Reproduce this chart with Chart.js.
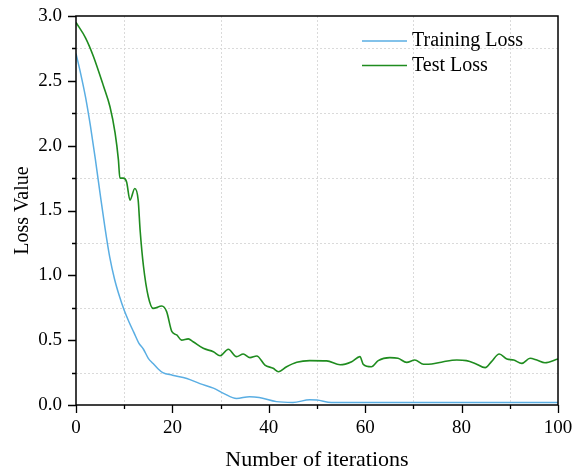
<!DOCTYPE html>
<html>
<head>
<meta charset="utf-8">
<script src="https://cdn.jsdelivr.net/npm/chart.js@4"></script>
<style>
  body { margin: 0; background: #fff; }
  canvas { display: block; }
</style>
</head>
<body>
<canvas id="lossChart" width="573" height="475"></canvas>
<script>
// values
const trainIter = [0, 1, 2, 3, 4, 5, 6, 7, 8, 9, 10, 11, 12, 13, 14, 15, 16, 17, 18, 20, 23, 25.7, 28.5, 30.6, 33.3, 36, 38, 41.6, 45, 48.5, 50, 53, 60, 70, 80, 90, 100];
const trainLoss = [2.71, 2.55, 2.37, 2.15, 1.9, 1.63, 1.37, 1.14, 0.97, 0.84, 0.73, 0.64, 0.56, 0.48, 0.43, 0.36, 0.32, 0.28, 0.25, 0.23, 0.205, 0.165, 0.13, 0.09, 0.05, 0.064, 0.058, 0.026, 0.02, 0.04, 0.038, 0.02, 0.02, 0.02, 0.02, 0.02, 0.02];

const testIter = [0, 2, 3.6, 5.7, 7.05, 8.1, 8.8, 9.1, 9.8, 10.5, 11.2, 12.2, 12.9, 13.3, 14, 15, 16, 17.8, 18.8, 19.9, 20.9, 21.9, 23.3, 24.3, 26.4, 28.5, 29.9, 31.6, 33.3, 34.7, 36.1, 37.5, 39.2, 40.9, 42, 43.7, 45.8, 48.5, 52, 54.8, 57.2, 58.9, 59.6, 61.3, 62.7, 65.1, 66.8, 68.6, 70.3, 72.1, 73.8, 76.2, 79, 81, 82.8, 84.9, 86.2, 87.8, 89.4, 90.8, 92.5, 94.2, 95.6, 97.3, 100];
const testLoss = [2.95, 2.83, 2.69, 2.46, 2.3, 2.1, 1.89, 1.75, 1.75, 1.72, 1.58, 1.67, 1.58, 1.35, 1.07, 0.835, 0.745, 0.763, 0.72, 0.565, 0.54, 0.5, 0.51, 0.488, 0.437, 0.411, 0.38, 0.43, 0.373, 0.393, 0.365, 0.378, 0.308, 0.283, 0.257, 0.295, 0.329, 0.342, 0.34, 0.31, 0.334, 0.373, 0.314, 0.295, 0.342, 0.365, 0.36, 0.329, 0.347, 0.314, 0.316, 0.334, 0.347, 0.342, 0.321, 0.288, 0.334, 0.393, 0.355, 0.347, 0.321, 0.36, 0.347, 0.326, 0.355];

const seriesNames = ['Training Loss', 'Test Loss'];
const xTickLabels = [0, 20, 40, 60, 80, 100];
const yTickLabels = [0.0, 0.5, 1.0, 1.5, 2.0, 2.5, 3.0];
const xMinorTicks = [10, 30, 50, 70, 90];
const yMinorTicks = [0.25, 0.75, 1.25, 1.75, 2.25, 2.75];

const serif = 'Liberation Serif, Times New Roman, serif';

const toPoints = (xs, ys) => xs.map((x, i) => ({ x, y: ys[i] }));

// dashed grid only at the unlabelled (minor) ticks
const minorGridPlugin = {
    id: 'minorGrid',
    beforeDatasetsDraw(chart) {
        const { ctx, chartArea: a, scales } = chart;
        ctx.save();
        ctx.strokeStyle = '#dadada';
        ctx.lineWidth = 1;
        ctx.setLineDash([2, 2]);
        ctx.beginPath();
        xMinorTicks.forEach(v => {
            const px = Math.round(scales.x.getPixelForValue(v)) + 0.5;
            ctx.moveTo(px, a.top);
            ctx.lineTo(px, a.bottom);
        });
        yMinorTicks.forEach(v => {
            const py = Math.round(scales.y.getPixelForValue(v)) + 0.5;
            ctx.moveTo(a.left, py);
            ctx.lineTo(a.right, py);
        });
        ctx.stroke();
        ctx.restore();
    }
};

// frame around plot, outward tick marks (long for labelled ticks, short for the others)
const framePlugin = {
    id: 'frame',
    afterDatasetsDraw(chart) {
        const { ctx, chartArea: a, scales } = chart;
        ctx.save();
        ctx.strokeStyle = '#000';
        ctx.lineWidth = 1.5;
        ctx.strokeRect(a.left, a.top, a.right - a.left, a.bottom - a.top);

        ctx.lineWidth = 1.3;
        ctx.beginPath();
        const xTick = (v, len) => {
            const px = Math.round(scales.x.getPixelForValue(v)) + 0.5;
            ctx.moveTo(px, a.bottom);
            ctx.lineTo(px, a.bottom + len);
        };
        const yTick = (v, len) => {
            const py = Math.round(scales.y.getPixelForValue(v)) + 0.5;
            ctx.moveTo(a.left, py);
            ctx.lineTo(a.left - len, py);
        };
        xTickLabels.forEach(v => xTick(v, 8));
        xMinorTicks.forEach(v => xTick(v, 4));
        yTickLabels.forEach(v => yTick(v, 8));
        yMinorTicks.forEach(v => yTick(v, 4));
        ctx.stroke();
        ctx.restore();
    }
};

// legend drawn inside the plot, top right
const legendPlugin = {
    id: 'insideLegend',
    afterDraw(chart) {
        const { ctx } = chart;
        ctx.save();
        ctx.font = '20px ' + serif;
        ctx.textBaseline = 'middle';
        ctx.fillStyle = '#000';
        chart.data.datasets.forEach((ds, i) => {
            const y = 41 + i * 24.5;
            ctx.strokeStyle = ds.borderColor;
            ctx.lineWidth = 1.6;
            ctx.beginPath();
            ctx.moveTo(362, y);
            ctx.lineTo(407, y);
            ctx.stroke();
            ctx.fillText(ds.label, 412, y);
        });
        ctx.restore();
    }
};

new Chart(document.getElementById('lossChart'), {
    type: 'line',
    data: {
        datasets: [
            {
                label: seriesNames[0],
                data: toPoints(trainIter, trainLoss),
                borderColor: '#5aaee3',
                backgroundColor: '#5aaee3',
                borderWidth: 1.5,
                pointRadius: 0,
                cubicInterpolationMode: 'monotone',
                fill: false,
            },
            {
                label: seriesNames[1],
                data: toPoints(testIter, testLoss),
                borderColor: '#1f8c1f',
                backgroundColor: '#1f8c1f',
                borderWidth: 1.6,
                pointRadius: 0,
                cubicInterpolationMode: 'monotone',
                fill: false,
            }
        ]
    },
    options: {
        responsive: false,
        animation: false,
        devicePixelRatio: 1,
        layout: { padding: { left: 0, right: 15, top: 16, bottom: 0 } },
        plugins: {
            legend: { display: false },
            tooltip: { enabled: false },
        },
        scales: {
            x: {
                type: 'linear',
                min: 0,
                max: 100,
                border: { display: false },
                grid: { display: false, drawTicks: false },
                ticks: {
                    stepSize: 20,
                    padding: 14,
                    color: '#000',
                    font: { family: serif, size: 19, lineHeight: 1 },
                    maxRotation: 0,
                    autoSkip: false,
                    callback: v => String(v),
                },
                title: {
                    display: true,
                    text: 'Number of iterations',
                    color: '#000',
                    font: { family: serif, size: 22, lineHeight: 1 },
                    padding: { top: 0, bottom: 4 },
                },
                afterFit(scale) {
                    scale.height = 70;
                    scale.paddingLeft = 0;
                    scale.paddingRight = 0;
                },
            },
            y: {
                type: 'linear',
                min: 0,
                max: 3,
                border: { display: false },
                grid: { display: false, drawTicks: false },
                ticks: {
                    stepSize: 0.5,
                    padding: 14,
                    color: '#000',
                    font: { family: serif, size: 19, lineHeight: 1 },
                    autoSkip: false,
                    callback: v => v.toFixed(1),
                },
                title: {
                    display: true,
                    text: 'Loss Value',
                    color: '#000',
                    font: { family: serif, size: 20, lineHeight: 1 },
                    padding: { top: 12.5, bottom: 0 },
                },
                afterFit(scale) {
                    scale.width = 76;
                    scale.paddingTop = 0;
                    scale.paddingBottom = 0;
                },
            }
        }
    },
    plugins: [minorGridPlugin, framePlugin, legendPlugin]
});
</script>
</body>
</html>
